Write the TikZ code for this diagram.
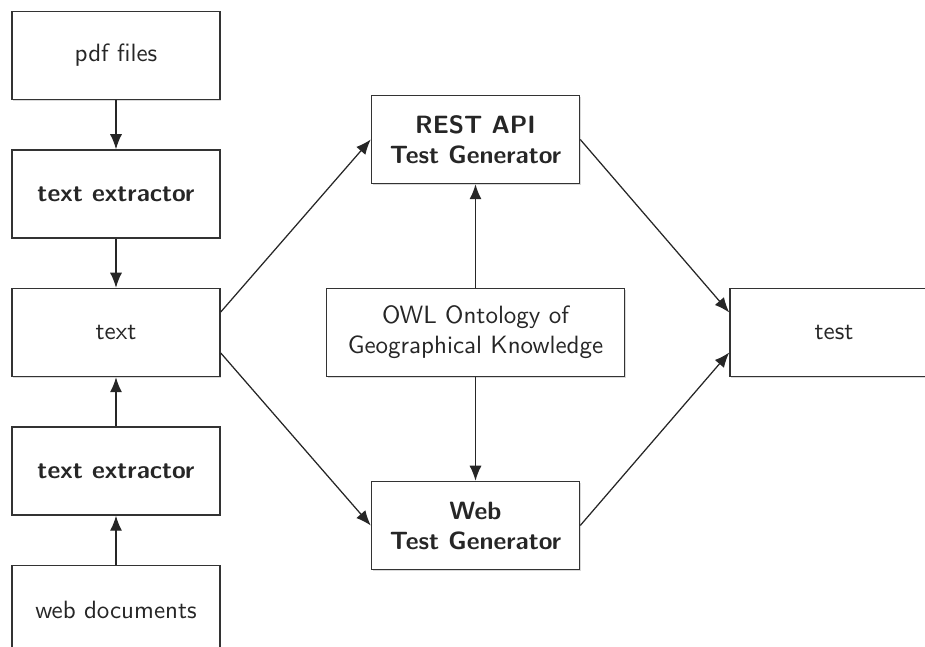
\documentclass[tikz,border=0pt]{standalone}
\usetikzlibrary{calc}
\usetikzlibrary{positioning}
\usetikzlibrary{shadows}
\usetikzlibrary{arrows.meta}
\tikzstyle{block} = [draw=black!80, line width=0.6pt, fill=white, rectangle, minimum width=83.2pt, minimum height=35.2pt, align=center, font=\sffamily, text=black!85, drop shadow={shadow xshift=0.5pt, shadow yshift=-0.5pt, opacity=0.3}]
\tikzstyle{wideblock} = [block, minimum width=119.2pt]
\tikzstyle{link} = [-{Latex[length=6pt, width=4.8pt]}, line width=0.5pt, black!85]

\begin{document}
\begin{tikzpicture}
  \useasboundingbox (-46.4pt,-125.8pt) rectangle (323.6pt,133pt);
  \node[block] (txt) {text};
  \node[block, above=19.6pt of txt] (extA) {\bfseries text extractor};
  \node[block, above=19.6pt of extA] (pdf) {pdf files};
  \node[block, below=19.6pt of txt] (extB) {\bfseries text extractor};
  \node[block, below=19.6pt of extB] (webdoc) {web documents};
  \node[wideblock, right=42pt of txt] (owl) {OWL Ontology of\\Geographical Knowledge};
  \node[block, above=41.4pt of owl] (rest) {\bfseries REST API\\\bfseries Test Generator};
  \node[block, below=41.4pt of owl] (webgen) {\bfseries Web\\\bfseries Test Generator};
  \node[block, right=41.6pt of owl] (test) {test};

  \draw[link] (pdf) -- (extA);
  \draw[link] (extA) -- (txt);
  \draw[link] (webdoc) -- (extB);
  \draw[link] (extB) -- (txt);
  \draw[link] ($(txt.east)+(0,8.2pt)$) -- (rest.west);
  \draw[link] ($(txt.east)+(0,-8.2pt)$) -- (webgen.west);
  \draw[link] (owl) -- (rest);
  \draw[link] (owl) -- (webgen);
  \draw[link] (rest.east) -- ($(test.west)+(0,8pt)$);
  \draw[link] (webgen.east) -- ($(test.west)+(0,-8pt)$);
\end{tikzpicture}
\end{document}
